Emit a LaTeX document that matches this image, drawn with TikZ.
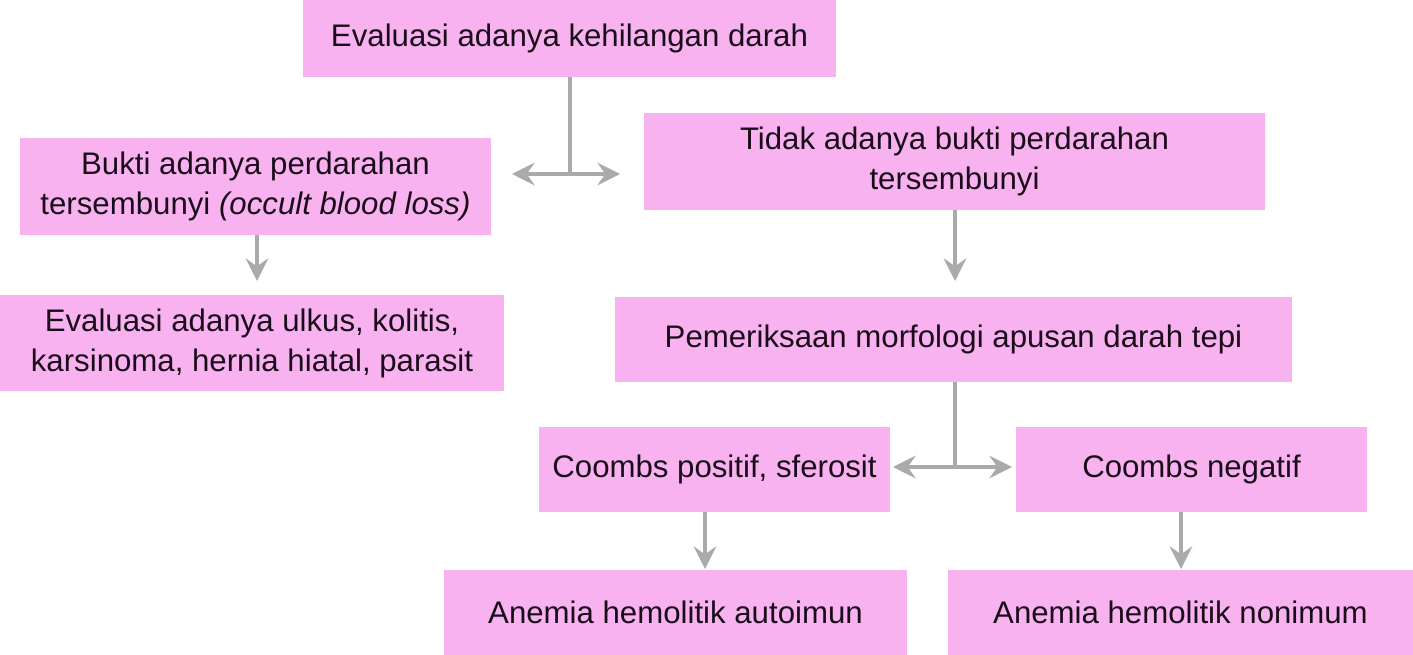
\documentclass[tikz,border=0pt]{standalone}
\usepackage{fontspec}
\setmainfont{Liberation Sans}
\usetikzlibrary{arrows.meta}
\definecolor{boxpink}{HTML}{F8B2EF}
\definecolor{arrgray}{HTML}{AAAAAA}
\definecolor{txt}{HTML}{1A0D1A}
\begin{document}
\begin{tikzpicture}[x=0.75pt,y=-0.75pt,
  box/.style={fill=boxpink,draw=none,inner sep=0pt,align=center,text=txt,
    font=\fontsize{23.4pt}{30pt}\selectfont},
  arr/.style={draw=arrgray,line width=2.3pt,-{Stealth[length=17pt,width=17pt,inset=6pt]}},
  darr/.style={draw=arrgray,line width=2.3pt,{Stealth[length=17pt,width=17pt,inset=6pt]}-{Stealth[length=17pt,width=17pt,inset=6pt]}},
  ln/.style={draw=arrgray,line width=2.3pt}]
\useasboundingbox (0,0) rectangle (1413,655);
% boxes: center (x,y), width, height in px
\node[box,minimum width=533*0.75pt,minimum height=77*0.75pt] (top) at (569.5,38.5) {Evaluasi adanya kehilangan darah};
\node[box,minimum width=471*0.75pt,minimum height=97*0.75pt] (l1) at (255.5,186.5) {Bukti adanya perdarahan\\tersembunyi \textit{(occult blood loss)}};
\node[box,minimum width=621*0.75pt,minimum height=97*0.75pt] (r1) at (954.5,161.5) {Tidak adanya bukti perdarahan\\tersembunyi};
\node[box,minimum width=504*0.75pt,minimum height=96*0.75pt] (l2) at (252,343) {Evaluasi adanya ulkus, kolitis,\\karsinoma, hernia hiatal, parasit};
\node[box,minimum width=677*0.75pt,minimum height=85*0.75pt] (r2) at (953.5,339.5) {Pemeriksaan morfologi apusan darah tepi};
\node[box,minimum width=351*0.75pt,minimum height=85*0.75pt] (cp) at (714.5,469.5) {Coombs positif, sferosit};
\node[box,minimum width=351*0.75pt,minimum height=85*0.75pt] (cn) at (1191.5,469.5) {Coombs negatif};
\node[box,minimum width=463*0.75pt,minimum height=85*0.75pt] (aa) at (675.5,612.5) {Anemia hemolitik autoimun};
\node[box,minimum width=465*0.75pt,minimum height=85*0.75pt] (an) at (1180.5,612.5) {Anemia hemolitik nonimum};
% connector points
\coordinate (j1) at (570,174);
\coordinate (j1l) at (512,174);
\coordinate (j1r) at (620,174);
\coordinate (e1) at (257,281);
\coordinate (e2) at (955,281);
\coordinate (j2) at (955,467);
\coordinate (j2l) at (893,467);
\coordinate (j2r) at (1012,467);
\coordinate (e3) at (705,569);
\coordinate (e4) at (1181,569);
% connectors
\draw[ln] (top.south -| j1) -- (j1);
\draw[darr] (j1l) -- (j1r);
\draw[arr] (l1.south -| e1) -- (e1);
\draw[arr] (r1.south -| e2) -- (e2);
\draw[ln] (r2.south -| j2) -- (j2);
\draw[darr] (j2l) -- (j2r);
\draw[arr] (cp.south -| e3) -- (e3);
\draw[arr] (cn.south -| e4) -- (e4);
\end{tikzpicture}
\end{document}
